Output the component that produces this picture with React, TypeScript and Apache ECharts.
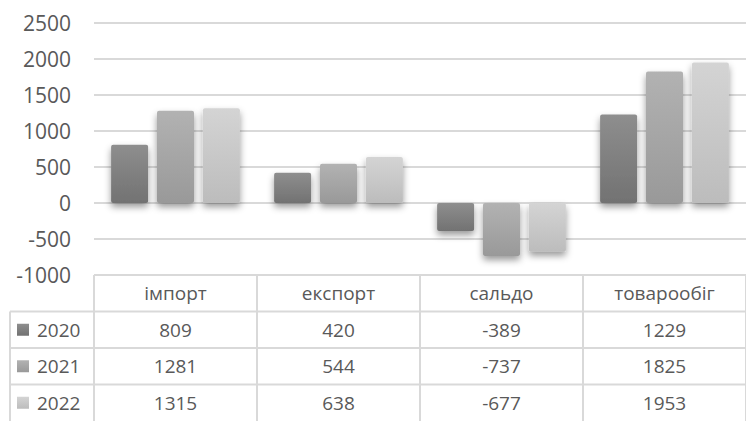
import React, { useEffect, useRef } from "react";
import * as echarts from "echarts";

const categories = ["імпорт", "експорт", "сальдо", "товарообіг"];
const years = ["2020", "2021", "2022"];
const values2020 = [809, 420, -389, 1229];
const values2021 = [1281, 544, -737, 1825];
const values2022 = [1315, 638, -677, 1953];
const seriesValues = [values2020, values2021, values2022];
const yMin = -1000;
const yMax = 2500;
const yInterval = 500;

const barColors = [
  ["#8e8e8e", "#727272"],
  ["#b2b2b2", "#999999"],
  ["#d4d4d4", "#bcbcbc"],
];

const FONT = "'Open Sans', 'DejaVu Sans', sans-serif";
const TEXT = "#595959";
const LINE = "#d9d9d9";

export default function App() {
  const ref = useRef<HTMLDivElement>(null);

  useEffect(() => {
    if (!ref.current) return;
    const chart = echarts.init(ref.current, null, { renderer: "svg" });

    const gridLeft = 94;
    const gridTop = 23;
    const gridWidth = 659;
    const gridHeight = 252;

    const grad = (c: string[]) =>
      new echarts.graphic.LinearGradient(0, 0, 0, 1, [
        { offset: 0, color: c[0] },
        { offset: 1, color: c[1] },
      ]);

    chart.setOption({
      animation: false,
      grid: { left: gridLeft, top: gridTop, width: gridWidth, height: gridHeight, containLabel: false },
      xAxis: {
        type: "category",
        data: categories,
        axisLine: { show: false },
        axisTick: { show: false },
        axisLabel: {
          color: TEXT,
          fontSize: 19,
          fontFamily: FONT,
          margin: 18,
          verticalAlign: "middle",
          interval: 0,
        },
      },
      yAxis: {
        type: "value",
        min: yMin,
        max: yMax,
        interval: yInterval,
        axisLine: { show: false },
        axisTick: { show: false },
        axisLabel: {
          color: TEXT,
          fontSize: 21,
          fontFamily: FONT,
          margin: 23,
          formatter: (v: number) => String(v),
        },
        splitLine: { lineStyle: { color: LINE, width: 2 } },
      },
      series: seriesValues.map((vals, i) => ({
        type: "bar",
        name: years[i],
        data: vals,
        barWidth: 37,
        barGap: "24%",
        itemStyle: {
          color: grad(barColors[i]),
          borderRadius: 2,
          shadowBlur: 7,
          shadowColor: "rgba(0,0,0,0.4)",
          shadowOffsetY: 4,
        },
      })),
    });

    // Data table built from the same arrays, positioned via the axis scale
    const centers = categories.map((_, i) => chart.convertToPixel({ xAxisIndex: 0 }, i) as number);
    const band = centers.length > 1 ? centers[1] - centers[0] : gridWidth;
    const tableTop = chart.convertToPixel({ yAxisIndex: 0 }, yMin) as number;
    const rowH = 36.5;
    const rows = [tableTop, tableTop + rowH, tableTop + 2 * rowH, tableTop + 3 * rowH, tableTop + 4 * rowH];
    const leftEdge = 10;
    const rightEdge = 760;

    const g: any[] = [];
    for (let r = 1; r < rows.length - 1; r++) {
      g.push({
        type: "line",
        shape: { x1: leftEdge, y1: rows[r], x2: rightEdge, y2: rows[r] },
        style: { stroke: LINE, lineWidth: 2 },
        silent: true,
      });
    }
    const bounds = [centers[0] - band / 2, ...centers.map((c) => c + band / 2)];
    bounds.forEach((x) => {
      g.push({
        type: "line",
        shape: { x1: x, y1: rows[0], x2: x, y2: rows[rows.length - 1] },
        style: { stroke: LINE, lineWidth: 2 },
        silent: true,
      });
    });
    g.push({
      type: "line",
      shape: { x1: leftEdge, y1: rows[1], x2: leftEdge, y2: rows[rows.length - 1] },
      style: { stroke: LINE, lineWidth: 2 },
      silent: true,
    });

    seriesValues.forEach((vals, i) => {
      const cy = (rows[i + 1] + rows[i + 2]) / 2;
      g.push({
        type: "rect",
        shape: { x: 17, y: cy - 6, width: 12, height: 12 },
        style: { fill: grad(barColors[i]) },
        silent: true,
      });
      g.push({
        type: "text",
        x: 37,
        y: cy,
        style: {
          text: years[i],
          fill: TEXT,
          font: `19px ${FONT}`,
          align: "left",
          verticalAlign: "middle",
        },
        silent: true,
      });
      vals.forEach((v, j) => {
        g.push({
          type: "text",
          x: centers[j],
          y: cy,
          style: {
            text: String(v),
            fill: TEXT,
            font: `19px ${FONT}`,
            align: "center",
            verticalAlign: "middle",
          },
          silent: true,
        });
      });
    });

    chart.setOption({ graphic: g });

    return () => chart.dispose();
  }, []);

  return (
    <div
      ref={ref}
      style={{ position: "absolute", left: 0, top: 0, width: 746, height: 421, background: "#fff" }}
    />
  );
}
